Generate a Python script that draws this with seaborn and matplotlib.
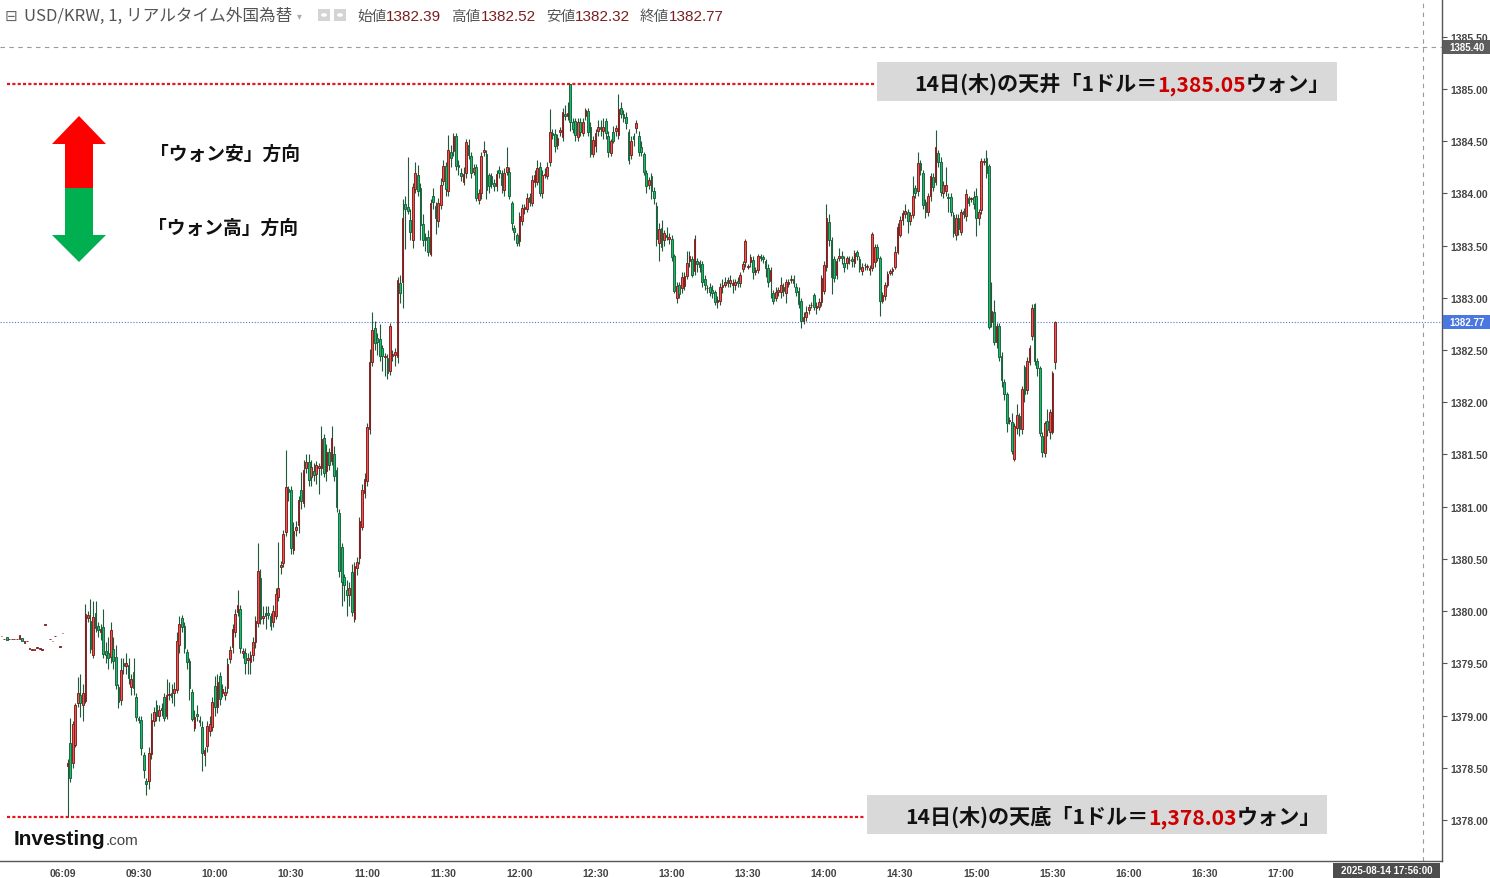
import matplotlib
matplotlib.use("Agg")
import numpy as np
import pandas as pd
import matplotlib.pyplot as plt
import seaborn as sns
from matplotlib.patches import Polygon, Rectangle, Circle

# ---- 1分足データ (09:02 から 1本ずつ) ----
first_minute = 2

opens = [
    1378.52, 1378.74, 1378.55, 1378.72, 1379.12, 1379.20, 1379.10, 1379.14, 1379.93, 1379.91,
    1379.58, 1379.98, 1379.86, 1379.80, 1379.85, 1379.62, 1379.60, 1379.56, 1379.64, 1379.56,
    1379.27, 1379.15, 1379.50, 1379.47, 1379.48, 1379.27, 1379.42, 1379.18, 1378.98, 1378.96,
    1378.62, 1378.37, 1378.37, 1378.63, 1378.95, 1379.10, 1379.00, 1379.07, 1379.18, 1379.00,
    1379.20, 1379.22, 1379.22, 1379.24, 1379.68, 1379.93, 1379.86, 1379.61, 1379.52, 1379.23,
    1378.88, 1379.01, 1378.96, 1378.89, 1378.62, 1378.71, 1378.85, 1378.89, 1379.28, 1379.08,
    1379.38, 1379.22, 1379.20, 1379.26, 1379.54, 1379.66, 1379.80, 1379.99, 1380.02, 1379.60,
    1379.60, 1379.53, 1379.51, 1379.58, 1379.70, 1379.89, 1380.32, 1379.93, 1379.98, 1379.98,
    1379.95, 1379.90, 1379.95, 1380.14, 1380.42, 1380.46, 1380.76, 1381.17, 1381.16, 1380.59,
    1380.78, 1380.82, 1381.16, 1381.04, 1381.37, 1381.43, 1381.28, 1381.34, 1381.31, 1381.37,
    1381.37, 1381.66, 1381.34, 1381.52, 1381.44, 1381.50, 1381.35, 1380.94, 1380.61, 1380.33,
    1380.20, 1380.15, 1380.37, 1379.92, 1380.41, 1380.51, 1380.81, 1381.13, 1381.25, 1381.74,
    1382.39, 1382.71, 1382.62, 1382.61, 1382.52, 1382.43, 1382.42, 1382.30, 1382.44, 1382.45,
    1382.43, 1383.14, 1383.15, 1383.90, 1383.87, 1383.75, 1383.55, 1384.04, 1384.18, 1384.05,
    1383.71, 1383.58, 1383.58, 1383.42, 1383.98, 1383.88, 1383.74, 1383.89, 1384.12, 1384.26,
    1384.02, 1384.40, 1384.41, 1384.55, 1384.27, 1384.20, 1384.11, 1384.20, 1384.46, 1384.36,
    1384.21, 1384.25, 1383.94, 1384.00, 1384.40, 1384.38, 1384.18, 1384.17, 1384.10, 1384.07,
    1384.22, 1384.20, 1384.03, 1384.21, 1384.21, 1383.91, 1383.67, 1383.60, 1383.54, 1383.74,
    1383.85, 1383.85, 1383.97, 1383.91, 1384.11, 1384.11, 1384.25, 1384.00, 1384.18, 1384.17,
    1384.30, 1384.58, 1384.57, 1384.46, 1384.59, 1384.54, 1384.76, 1384.74, 1385.05, 1384.68,
    1384.69, 1384.54, 1384.68, 1384.58, 1384.74, 1384.79, 1384.64, 1384.38, 1384.45, 1384.60,
    1384.64, 1384.60, 1384.69, 1384.55, 1384.39, 1384.59, 1384.60, 1384.56, 1384.82, 1384.76,
    1384.73, 1384.59, 1384.37, 1384.55, 1384.63, 1384.55, 1384.44, 1384.38, 1384.20, 1384.08,
    1384.17, 1384.02, 1383.88, 1383.53, 1383.67, 1383.55, 1383.60, 1383.56, 1383.56, 1383.40,
    1383.00, 1383.12, 1383.09, 1383.11, 1383.21, 1383.35, 1383.37, 1383.26, 1383.35, 1383.34,
    1383.32, 1383.18, 1383.09, 1383.10, 1383.08, 1383.06, 1382.96, 1382.97, 1383.10, 1383.12,
    1383.17, 1383.14, 1383.12, 1383.12, 1383.16, 1383.14, 1383.28, 1383.34, 1383.30, 1383.34,
    1383.36, 1383.25, 1383.27, 1383.40, 1383.39, 1383.35, 1383.29, 1383.16, 1383.05, 1383.00,
    1383.06, 1383.06, 1383.10, 1383.05, 1383.13, 1383.17, 1383.18, 1383.10, 1383.07, 1382.97,
    1382.78, 1382.82, 1382.88, 1382.93, 1383.03, 1382.90, 1382.91, 1382.96, 1383.07, 1383.30,
    1383.73, 1383.55, 1383.37, 1383.22, 1383.38, 1383.40, 1383.33, 1383.33, 1383.36, 1383.37,
    1383.33, 1383.44, 1383.37, 1383.26, 1383.31, 1383.30, 1383.27, 1383.29, 1383.34, 1383.49,
    1383.38, 1382.97, 1383.02, 1383.12, 1383.24, 1383.26, 1383.30, 1383.44, 1383.60, 1383.75,
    1383.80, 1383.82, 1383.74, 1383.79, 1384.05, 1384.02, 1384.29, 1384.20, 1383.92, 1383.82,
    1383.98, 1384.16, 1384.11, 1384.39, 1384.30, 1384.00, 1384.02, 1383.97, 1383.97, 1383.79,
    1383.60, 1383.76, 1383.63, 1383.83, 1383.78, 1383.96, 1383.95, 1383.97, 1383.98, 1383.76,
    1383.84, 1384.30, 1384.34, 1384.26, 1382.77, 1382.86, 1382.58, 1382.73, 1382.44, 1382.19,
    1382.08, 1381.82, 1381.81, 1381.46, 1381.75, 1381.87, 1381.74, 1382.34, 1382.12, 1382.39,
    1382.63, 1382.94, 1382.40, 1382.33, 1381.68, 1381.51, 1381.82, 1381.72, 1381.72, 1382.39,
]

highs = [
    1378.58, 1378.98, 1378.95, 1379.12, 1379.37, 1379.40, 1379.30, 1380.07, 1380.00, 1380.12,
    1380.10, 1380.10, 1379.90, 1379.88, 1380.02, 1379.70, 1379.75, 1379.90, 1379.75, 1379.68,
    1379.30, 1379.55, 1379.55, 1379.60, 1379.55, 1379.40, 1379.55, 1379.22, 1379.00, 1379.00,
    1378.65, 1378.40, 1378.70, 1379.02, 1379.08, 1379.15, 1379.10, 1379.12, 1379.22, 1379.35,
    1379.32, 1379.30, 1379.32, 1379.80, 1379.95, 1379.96, 1379.90, 1379.64, 1379.55, 1379.25,
    1379.05, 1379.10, 1379.00, 1378.95, 1378.70, 1378.95, 1379.00, 1379.18, 1379.38, 1379.40,
    1379.42, 1379.30, 1379.28, 1379.55, 1379.67, 1379.88, 1380.02, 1380.20, 1380.06, 1379.65,
    1379.65, 1379.60, 1379.62, 1379.75, 1379.95, 1380.65, 1380.40, 1380.05, 1380.05, 1380.05,
    1379.98, 1380.06, 1380.22, 1380.66, 1380.48, 1380.78, 1381.54, 1381.20, 1381.20, 1380.85,
    1380.86, 1381.10, 1381.33, 1381.45, 1381.50, 1381.50, 1381.45, 1381.42, 1381.44, 1381.42,
    1381.77, 1381.70, 1381.60, 1381.56, 1381.77, 1381.58, 1381.38, 1380.98, 1380.65, 1380.36,
    1380.30, 1380.28, 1380.45, 1380.47, 1380.52, 1380.90, 1381.22, 1381.32, 1381.80, 1382.51,
    1382.86, 1382.78, 1382.66, 1382.75, 1382.55, 1382.47, 1382.46, 1382.76, 1382.50, 1382.52,
    1383.20, 1383.22, 1383.95, 1383.98, 1384.35, 1383.85, 1384.10, 1384.30, 1384.27, 1384.10,
    1383.80, 1383.62, 1383.65, 1383.95, 1384.05, 1383.92, 1383.96, 1384.15, 1384.32, 1384.30,
    1384.56, 1384.46, 1384.58, 1384.58, 1384.32, 1384.24, 1384.25, 1384.52, 1384.52, 1384.40,
    1384.28, 1384.28, 1384.04, 1384.40, 1384.50, 1384.42, 1384.20, 1384.20, 1384.14, 1384.22,
    1384.26, 1384.22, 1384.24, 1384.44, 1384.25, 1383.93, 1383.70, 1383.62, 1383.82, 1383.90,
    1383.90, 1384.00, 1384.00, 1384.18, 1384.22, 1384.32, 1384.30, 1384.22, 1384.24, 1384.30,
    1384.81, 1384.62, 1384.62, 1384.57, 1384.64, 1384.82, 1384.85, 1384.88, 1385.05, 1384.72,
    1384.72, 1384.72, 1384.72, 1384.72, 1384.82, 1384.82, 1384.68, 1384.55, 1384.62, 1384.70,
    1384.70, 1384.72, 1384.72, 1384.60, 1384.52, 1384.65, 1384.66, 1384.95, 1384.88, 1384.80,
    1384.78, 1384.62, 1384.55, 1384.58, 1384.70, 1384.60, 1384.50, 1384.40, 1384.22, 1384.16,
    1384.20, 1384.06, 1383.92, 1383.72, 1383.75, 1383.65, 1383.68, 1383.62, 1383.60, 1383.42,
    1383.15, 1383.15, 1383.25, 1383.25, 1383.45, 1383.45, 1383.40, 1383.60, 1383.38, 1383.36,
    1383.35, 1383.22, 1383.12, 1383.14, 1383.12, 1383.08, 1383.02, 1383.14, 1383.18, 1383.20,
    1383.20, 1383.22, 1383.18, 1383.18, 1383.20, 1383.25, 1383.35, 1383.56, 1383.32, 1383.42,
    1383.40, 1383.30, 1383.42, 1383.42, 1383.41, 1383.37, 1383.32, 1383.30, 1383.08, 1383.10,
    1383.10, 1383.20, 1383.14, 1383.18, 1383.18, 1383.22, 1383.22, 1383.14, 1383.10, 1383.00,
    1382.86, 1382.92, 1382.94, 1382.96, 1383.05, 1382.96, 1383.00, 1383.22, 1383.35, 1383.90,
    1383.80, 1383.58, 1383.40, 1383.38, 1383.48, 1383.45, 1383.40, 1383.40, 1383.40, 1383.40,
    1383.46, 1383.46, 1383.40, 1383.33, 1383.33, 1383.32, 1383.31, 1383.63, 1383.52, 1383.52,
    1383.40, 1383.06, 1383.15, 1383.26, 1383.28, 1383.30, 1383.50, 1383.72, 1383.78, 1383.84,
    1383.90, 1383.85, 1383.82, 1384.17, 1384.08, 1384.40, 1384.32, 1384.22, 1383.95, 1384.00,
    1384.20, 1384.20, 1384.61, 1384.42, 1384.35, 1384.12, 1384.25, 1384.00, 1384.00, 1383.82,
    1383.80, 1383.80, 1383.85, 1383.86, 1384.04, 1383.98, 1383.97, 1384.02, 1384.05, 1383.85,
    1384.34, 1384.34, 1384.42, 1384.28, 1383.15, 1382.98, 1382.76, 1382.76, 1382.48, 1382.22,
    1382.10, 1381.86, 1381.90, 1381.80, 1381.98, 1381.90, 1382.16, 1382.36, 1382.43, 1382.55,
    1382.94, 1382.95, 1382.42, 1382.35, 1381.72, 1381.82, 1381.94, 1381.94, 1382.30, 1382.78,
]

lows = [
    1378.03, 1378.36, 1378.50, 1378.70, 1379.08, 1378.99, 1378.95, 1379.12, 1379.90, 1379.60,
    1379.55, 1379.80, 1379.75, 1379.72, 1379.55, 1379.50, 1379.45, 1379.50, 1379.45, 1379.25,
    1379.07, 1379.10, 1379.40, 1379.40, 1379.30, 1379.20, 1379.20, 1378.95, 1378.93, 1378.62,
    1378.40, 1378.24, 1378.30, 1378.58, 1378.90, 1378.95, 1378.95, 1379.00, 1378.95, 1378.97,
    1379.15, 1379.12, 1379.09, 1379.22, 1379.60, 1379.80, 1379.60, 1379.45, 1379.15, 1378.95,
    1378.85, 1378.95, 1378.90, 1378.47, 1378.52, 1378.65, 1378.80, 1378.85, 1379.00, 1379.02,
    1379.10, 1379.18, 1379.15, 1379.22, 1379.50, 1379.60, 1379.75, 1379.95, 1379.60, 1379.55,
    1379.40, 1379.40, 1379.40, 1379.52, 1379.65, 1379.85, 1379.88, 1379.88, 1379.83, 1379.92,
    1379.82, 1379.85, 1379.92, 1380.10, 1380.36, 1380.42, 1380.72, 1381.05, 1380.55, 1380.55,
    1380.72, 1380.75, 1380.98, 1381.00, 1381.32, 1381.20, 1381.20, 1381.25, 1381.22, 1381.12,
    1381.30, 1381.28, 1381.25, 1381.35, 1381.40, 1381.25, 1380.95, 1380.33, 1380.05, 1380.10,
    1379.95, 1380.05, 1379.95, 1379.90, 1380.35, 1380.45, 1380.78, 1381.08, 1381.20, 1381.70,
    1382.35, 1382.50, 1382.45, 1382.40, 1382.30, 1382.25, 1382.22, 1382.26, 1382.40, 1382.35,
    1382.38, 1382.95, 1382.90, 1383.47, 1383.80, 1383.55, 1383.48, 1384.00, 1383.98, 1383.55,
    1383.50, 1383.45, 1383.40, 1383.40, 1383.85, 1383.61, 1383.68, 1383.85, 1384.08, 1383.98,
    1383.98, 1384.25, 1384.36, 1384.22, 1384.18, 1384.12, 1384.08, 1384.15, 1384.33, 1384.15,
    1384.18, 1383.93, 1383.90, 1383.95, 1384.36, 1383.95, 1384.00, 1384.05, 1384.02, 1384.02,
    1384.15, 1384.00, 1383.98, 1384.18, 1383.95, 1383.65, 1383.55, 1383.50, 1383.50, 1383.70,
    1383.80, 1383.82, 1383.88, 1383.88, 1384.06, 1384.08, 1383.98, 1383.96, 1384.15, 1384.14,
    1384.26, 1384.52, 1384.40, 1384.43, 1384.55, 1384.50, 1384.70, 1384.70, 1384.60, 1384.58,
    1384.50, 1384.50, 1384.55, 1384.55, 1384.70, 1384.55, 1384.35, 1384.35, 1384.40, 1384.55,
    1384.55, 1384.52, 1384.52, 1384.35, 1384.36, 1384.48, 1384.55, 1384.52, 1384.72, 1384.68,
    1384.62, 1384.28, 1384.33, 1384.45, 1384.58, 1384.36, 1384.36, 1384.18, 1384.00, 1384.04,
    1383.95, 1383.90, 1383.50, 1383.35, 1383.45, 1383.50, 1383.55, 1383.52, 1383.35, 1383.05,
    1382.95, 1383.00, 1383.05, 1383.08, 1383.18, 1383.30, 1383.20, 1383.22, 1383.25, 1383.25,
    1383.10, 1383.08, 1383.05, 1383.02, 1383.00, 1382.93, 1382.90, 1382.93, 1383.05, 1383.10,
    1383.10, 1383.10, 1383.05, 1383.08, 1383.10, 1383.10, 1383.25, 1383.30, 1383.28, 1383.30,
    1383.18, 1383.22, 1383.24, 1383.35, 1383.33, 1383.20, 1383.10, 1383.00, 1382.94, 1382.97,
    1383.02, 1383.00, 1383.02, 1382.95, 1383.10, 1383.14, 1383.10, 1383.02, 1382.90, 1382.71,
    1382.75, 1382.78, 1382.85, 1382.90, 1382.88, 1382.85, 1382.88, 1382.92, 1383.04, 1383.26,
    1383.50, 1383.04, 1383.15, 1383.18, 1383.35, 1383.32, 1383.25, 1383.28, 1383.32, 1383.30,
    1383.30, 1383.36, 1383.25, 1383.22, 1383.27, 1383.27, 1383.22, 1383.26, 1383.30, 1383.35,
    1382.83, 1382.95, 1382.98, 1383.10, 1383.22, 1383.22, 1383.28, 1383.42, 1383.58, 1383.70,
    1383.76, 1383.62, 1383.70, 1383.76, 1383.96, 1383.98, 1384.18, 1383.85, 1383.76, 1383.78,
    1383.93, 1384.02, 1384.08, 1384.25, 1383.98, 1383.96, 1383.98, 1383.82, 1383.78, 1383.58,
    1383.55, 1383.60, 1383.60, 1383.76, 1383.74, 1383.88, 1383.92, 1383.85, 1383.59, 1383.70,
    1383.80, 1384.27, 1384.15, 1382.70, 1382.72, 1382.55, 1382.52, 1382.40, 1382.15, 1382.02,
    1381.72, 1381.79, 1381.50, 1381.44, 1381.70, 1381.68, 1381.70, 1382.00, 1382.08, 1382.36,
    1382.60, 1382.36, 1382.25, 1381.68, 1381.48, 1381.48, 1381.68, 1381.65, 1381.70, 1382.32,
]

closes = [
    1378.55, 1378.40, 1378.92, 1379.10, 1379.22, 1379.12, 1379.22, 1379.97, 1379.96, 1379.64,
    1379.94, 1379.84, 1379.82, 1379.83, 1379.59, 1379.58, 1379.55, 1379.82, 1379.52, 1379.29,
    1379.13, 1379.44, 1379.47, 1379.50, 1379.36, 1379.35, 1379.26, 1378.99, 1378.96, 1378.69,
    1378.48, 1378.34, 1378.64, 1378.96, 1379.03, 1379.00, 1379.05, 1379.05, 1378.98, 1379.20,
    1379.21, 1379.18, 1379.25, 1379.71, 1379.88, 1379.85, 1379.65, 1379.51, 1379.26, 1378.97,
    1378.99, 1379.00, 1378.94, 1378.64, 1378.67, 1378.90, 1378.92, 1379.13, 1379.08, 1379.32,
    1379.16, 1379.25, 1379.23, 1379.49, 1379.63, 1379.83, 1379.97, 1380.06, 1379.65, 1379.62,
    1379.50, 1379.55, 1379.58, 1379.70, 1379.91, 1380.38, 1379.92, 1379.95, 1379.95, 1379.96,
    1379.86, 1380.00, 1380.16, 1380.22, 1380.44, 1380.74, 1381.19, 1381.14, 1380.60, 1380.77,
    1380.81, 1381.06, 1381.05, 1381.35, 1381.43, 1381.26, 1381.38, 1381.30, 1381.40, 1381.39,
    1381.65, 1381.32, 1381.52, 1381.40, 1381.66, 1381.29, 1381.00, 1380.38, 1380.28, 1380.25,
    1380.15, 1380.22, 1379.99, 1380.43, 1380.47, 1380.86, 1381.16, 1381.27, 1381.76, 1382.39,
    1382.69, 1382.57, 1382.58, 1382.44, 1382.44, 1382.44, 1382.28, 1382.73, 1382.46, 1382.48,
    1383.17, 1383.05, 1383.76, 1383.85, 1383.83, 1383.63, 1384.06, 1384.20, 1384.02, 1383.70,
    1383.55, 1383.55, 1383.44, 1383.91, 1383.92, 1383.76, 1383.91, 1384.08, 1384.26, 1384.04,
    1384.42, 1384.34, 1384.55, 1384.26, 1384.25, 1384.17, 1384.19, 1384.49, 1384.37, 1384.20,
    1384.24, 1383.96, 1384.00, 1384.36, 1384.42, 1384.03, 1384.07, 1384.09, 1384.07, 1384.19,
    1384.20, 1384.08, 1384.20, 1384.25, 1383.98, 1383.72, 1383.63, 1383.53, 1383.78, 1383.86,
    1383.87, 1383.96, 1383.92, 1384.13, 1384.18, 1384.24, 1384.00, 1384.18, 1384.19, 1384.25,
    1384.59, 1384.56, 1384.45, 1384.53, 1384.61, 1384.78, 1384.74, 1384.77, 1384.68, 1384.62,
    1384.56, 1384.68, 1384.59, 1384.68, 1384.80, 1384.59, 1384.38, 1384.51, 1384.58, 1384.64,
    1384.62, 1384.64, 1384.58, 1384.40, 1384.50, 1384.50, 1384.63, 1384.81, 1384.76, 1384.72,
    1384.67, 1384.32, 1384.50, 1384.52, 1384.67, 1384.40, 1384.40, 1384.21, 1384.07, 1384.13,
    1384.02, 1383.96, 1383.56, 1383.66, 1383.49, 1383.62, 1383.58, 1383.58, 1383.39, 1383.07,
    1383.11, 1383.04, 1383.20, 1383.21, 1383.33, 1383.40, 1383.22, 1383.56, 1383.32, 1383.30,
    1383.15, 1383.12, 1383.09, 1383.06, 1383.05, 1382.96, 1382.98, 1383.10, 1383.12, 1383.15,
    1383.14, 1383.17, 1383.14, 1383.15, 1383.14, 1383.22, 1383.32, 1383.54, 1383.30, 1383.39,
    1383.25, 1383.27, 1383.40, 1383.38, 1383.37, 1383.29, 1383.15, 1383.27, 1382.97, 1383.06,
    1383.08, 1383.12, 1383.07, 1383.15, 1383.15, 1383.18, 1383.14, 1383.06, 1382.94, 1382.78,
    1382.82, 1382.86, 1382.91, 1382.93, 1382.91, 1382.92, 1382.96, 1383.19, 1383.31, 1383.76,
    1383.55, 1383.20, 1383.19, 1383.35, 1383.40, 1383.38, 1383.30, 1383.38, 1383.36, 1383.35,
    1383.43, 1383.40, 1383.28, 1383.30, 1383.31, 1383.30, 1383.29, 1383.61, 1383.49, 1383.38,
    1382.97, 1383.03, 1383.12, 1383.23, 1383.26, 1383.28, 1383.44, 1383.68, 1383.75, 1383.81,
    1383.83, 1383.74, 1383.79, 1383.98, 1384.00, 1384.29, 1384.22, 1383.89, 1383.82, 1383.98,
    1384.17, 1384.06, 1384.44, 1384.30, 1384.01, 1384.08, 1384.08, 1383.96, 1383.82, 1383.62,
    1383.76, 1383.66, 1383.82, 1383.80, 1383.99, 1383.91, 1383.95, 1383.90, 1383.76, 1383.82,
    1384.31, 1384.31, 1384.20, 1382.72, 1382.87, 1382.58, 1382.73, 1382.43, 1382.21, 1382.08,
    1381.80, 1381.83, 1381.53, 1381.77, 1381.88, 1381.74, 1382.13, 1382.08, 1382.40, 1382.52,
    1382.90, 1382.40, 1382.33, 1381.71, 1381.52, 1381.80, 1381.73, 1381.91, 1382.28, 1382.77,
]

# 前場以前のまばらなティック
pre_minutes = [-24, -23, -22, -21, -20, -19, -18, -17, -16, -15, -14, -13,
               -12, -11, -10, -9, -8, -7, -5, -4, -3, -1, 0]
pre_open = [1379.76, 1379.73, 1379.75, 1379.73, 1379.73, 1379.73, 1379.73, 1379.73,
            1379.74, 1379.69, 1379.71, 1379.64, 1379.63, 1379.63, 1379.65, 1379.64,
            1379.63, 1379.87, 1379.73, 1379.71, 1379.76, 1379.66, 1379.79]
pre_close = [1379.76, 1379.73, 1379.72, 1379.73, 1379.73, 1379.73, 1379.73, 1379.77,
             1379.71, 1379.71, 1379.71, 1379.64, 1379.63, 1379.63, 1379.65, 1379.64,
             1379.63, 1379.87, 1379.73, 1379.71, 1379.76, 1379.66, 1379.79]

time_ticks = [0, 30, 60, 90, 120, 150, 180, 210, 240, 270, 300, 330, 360, 390, 420, 450, 480]
time_labels = ['06:09', '09:30', '10:00', '10:30', '11:00', '11:30', '12:00', '12:30', '13:00',
               '13:30', '14:00', '14:30', '15:00', '15:30', '16:00', '16:30', '17:00']
price_ticks = [1378.0, 1378.5, 1379.0, 1379.5, 1380.0, 1380.5, 1381.0, 1381.5,
               1382.0, 1382.5, 1383.0, 1383.5, 1384.0, 1384.5, 1385.0, 1385.5]

day_high = 1385.05
day_low = 1378.03
last_price = 1382.77
cursor_price = 1385.40
cursor_minute = 536
cursor_label = '2025-08-14 17:56:00'
header_title = 'USD/KRW, 1, リアルタイム外国為替'
header_items = [('始値', '1382.39'), ('高値', '1382.52'), ('安値', '1382.32'), ('終値', '1382.77')]

# ---- 色 ----
UP_FILL, UP_EDGE = '#f2534f', '#7d1d1d'
DN_FILL, DN_EDGE = '#10c06a', '#1b5e3a'
WICK = '#1f5b3b'
NARROW = ['Liberation Sans Narrow', 'Liberation Sans', 'DejaVu Sans']

sns.set_theme(style='white')
plt.rcParams['font.family'] = ['Noto Sans CJK JP', 'DejaVu Sans']

W, H = 1490, 879
fig = plt.figure(figsize=(W / 100, H / 100), dpi=100)
fig.patch.set_facecolor('white')
ax = fig.add_axes([0, 17 / H, 1442 / W, 862 / H])
ax.set_facecolor('white')

df = pd.DataFrame({'open': opens, 'high': highs, 'low': lows, 'close': closes})
df['minute'] = first_minute + np.arange(len(df))
df['high'] = df[['high', 'open', 'close']].max(axis=1)
df['low'] = df[['low', 'open', 'close']].min(axis=1)

pre = pd.DataFrame({'minute': pre_minutes, 'open': pre_open, 'close': pre_close})


def draw_bodies(d):
    up = d['close'] >= d['open']
    for mask, fill, edge in [(up, UP_FILL, UP_EDGE), (~up, DN_FILL, DN_EDGE)]:
        s = d[mask]
        bottom = s[['open', 'close']].min(axis=1)
        height = (s['close'] - s['open']).abs().clip(lower=0.004)
        ax.bar(s['minute'], height, bottom=bottom, width=0.66, color=fill,
               edgecolor=edge, linewidth=0.65, zorder=4)


ax.vlines(df['minute'], df['low'], df['high'], color=WICK, linewidth=0.8, zorder=3)
draw_bodies(df)
draw_bodies(pre)

ax.set_xlim(-24.63, 543.5)
ax.set_ylim(1377.607, 1385.862)

# 補助線
ax.axhline(day_high, xmin=7 / 1442, xmax=875 / 1442, color='#e8141c', lw=1.6,
           ls=(0, (1.4, 1.0)), zorder=2)
ax.axhline(day_low, xmin=7 / 1442, xmax=865 / 1442, color='#e8141c', lw=1.6,
           ls=(0, (1.4, 1.0)), zorder=2)
ax.axhline(last_price, color='#4a78e0', lw=0.8, ls=(0, (1, 1.6)), zorder=1)
ax.axhline(cursor_price, color='#9a9a9a', lw=0.8, ls=(0, (4, 4)), zorder=1)
ax.axvline(cursor_minute, color='#9a9a9a', lw=0.8, ls=(0, (4, 4)), zorder=1)

# 軸
sns.despine(ax=ax, left=True, top=True, right=False, bottom=False)
for side in ['right', 'bottom']:
    ax.spines[side].set_color('#555555')
    ax.spines[side].set_linewidth(1.0)
ax.yaxis.tick_right()
ax.set_yticks(price_ticks)
ax.yaxis.set_major_formatter('{x:.2f}')
ax.set_xticks(time_ticks)
ax.set_xticklabels(time_labels)
ax.tick_params(axis='y', direction='out', length=3.5, width=0.8, color='#555555',
               pad=2.5, labelsize=7.5, labelcolor='#444444')
ax.tick_params(axis='x', direction='out', length=3, width=0.8, color='#555555',
               pad=2, labelsize=7.5, labelcolor='#444444')
for lab in ax.get_yticklabels() + ax.get_xticklabels():
    lab.set_family(NARROW)
    lab.set_fontweight('bold')
ax.grid(False)


def fx(x):
    return x / W


def fy(y):
    return 1 - y / H


def add_rect(x0, y0, x1, y1, fc):
    fig.add_artist(Rectangle((fx(x0), fy(y1)), (x1 - x0) / W, (y1 - y0) / H,
                             transform=fig.transFigure, fc=fc, ec='none', zorder=5))


renderer = fig.canvas.get_renderer()


def draw_runs(x, y, runs, gap=0):
    for s, kw in runs:
        t = fig.text(fx(x), fy(y), s, ha='left', va='baseline', zorder=7, **kw)
        x += t.get_window_extent(renderer).width + gap
    return x


# 右軸上の価格ラベル
for price, fc in [(last_price, '#4a78e0'), (cursor_price, '#5d5d5d')]:
    ypx = H - ax.transData.transform((0, price))[1]
    add_rect(1443, ypx - 7, 1490, ypx + 7, fc)
    fig.text(fx(1467), fy(ypx), f'{price:.2f}', ha='center', va='center', fontsize=7,
             color='white', weight='bold', family=NARROW, zorder=7)

# 下部の日時ラベル
add_rect(1333, 864, 1440, 879, '#4d4d4d')
fig.text(fx(1386.5), fy(871.5), cursor_label, ha='center', va='center', fontsize=7,
         color='white', weight='bold', family=NARROW, zorder=7)

# ヘッダー
fig.text(fx(5), fy(16), '⊟', fontsize=11, color='#666666', va='center', family=['DejaVu Sans'])
x_end = draw_runs(24, 21, [(header_title, dict(fontsize=12, color='#555555'))])
fig.text(fx(x_end + 5), fy(16), '▾', fontsize=7, color='#aaaaaa', va='center', family=['DejaVu Sans'])
for ix in [318, 334]:
    add_rect(ix, 10, ix + 12, 22, '#d4d4d4')
    fig.add_artist(Circle((fx(ix + 6), fy(16)), 3 / W, transform=fig.transFigure,
                          fc='white', ec='none', zorder=6))
x = 357
for lab, val in header_items:
    x = draw_runs(x, 21, [(lab, dict(fontsize=10.5, color='#555555')),
                          (val, dict(fontsize=11, color='#7b1e1e', family=NARROW))])
    x += 10

# 天井・天底の注記
ann_kw = dict(fontsize=15.2, weight='bold')
add_rect(877, 63, 1337, 102, '#d9d9d9')
draw_runs(914, 91, [('14日(木)の天井「1ドル＝', dict(color='#111111', **ann_kw)),
                    (f'{day_high:,.2f}', dict(color='#cc0000', **ann_kw)),
                    ('ウォン」', dict(color='#111111', **ann_kw))])
add_rect(867, 796, 1327, 835, '#d9d9d9')
draw_runs(905, 824, [('14日(木)の天底「1ドル＝', dict(color='#111111', **ann_kw)),
                     (f'{day_low:,.2f}', dict(color='#cc0000', **ann_kw)),
                     ('ウォン」', dict(color='#111111', **ann_kw))])

# 凡例の矢印
up_arrow = [(52, 145), (79, 117), (106, 145), (93, 145), (93, 189), (65, 189), (65, 145)]
dn_arrow = [(65, 189), (93, 189), (93, 236), (106, 236), (79, 263), (52, 236), (65, 236)]
for pts, fc in [(up_arrow, '#ff0000'), (dn_arrow, '#00b050')]:
    fig.add_artist(Polygon([(fx(px), fy(py)) for px, py in pts], closed=True,
                           transform=fig.transFigure, fc=fc, ec='none', zorder=5))
fig.text(fx(150), fy(154), '「ウォン安」方向', fontsize=13.5, weight='bold', color='#111111',
         va='center', ha='left')
fig.text(fx(148), fy(228), '「ウォン高」方向', fontsize=13.5, weight='bold', color='#111111',
         va='center', ha='left')

# ロゴ
draw_runs(14, 845, [('Investing', dict(fontsize=15, weight='bold', color='#111111',
                                       family=['Liberation Sans Narrow', 'Liberation Sans'])),
                    ('.com', dict(fontsize=11, color='#444444', family=NARROW))])

fig.savefig('out.png', dpi=100, facecolor='white')
